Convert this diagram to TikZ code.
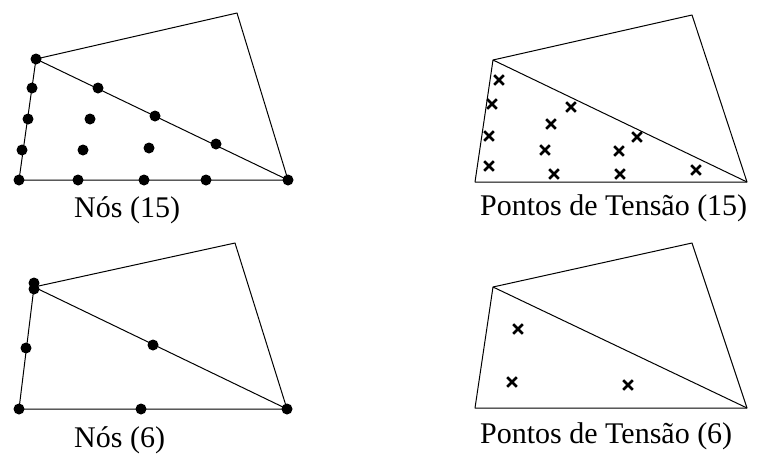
\documentclass[tikz,border=0pt]{standalone}
\usepackage{fontspec}
\setmainfont{Liberation Serif}
\usetikzlibrary{shapes.misc}
\begin{document}
\begin{tikzpicture}[x=1pt,y=-1pt,
  edge/.style={line width=1pt,line join=round},
  dot/.style={circle,fill=black,inner sep=0pt,minimum size=11pt},
  xmark/.style={cross out,draw=black,line width=2.6pt,inner sep=0pt,minimum size=7pt},
  lbl/.style={anchor=base west,inner sep=0pt,font=\fontsize{30}{36}\selectfont}]
\useasboundingbox (0,0) rectangle (757,455);
% ---------- top-left: Nos (15)
\coordinate (a1) at (36,59);
\coordinate (b1) at (237,13);
\coordinate (c1) at (288,180);
\coordinate (d1) at (19,180);
\draw[edge] (a1) -- (b1) -- (c1) -- (d1) -- cycle;
\draw[edge] (a1) -- (c1);
\foreach \n/\p in {p1/{(36,59)},p2/{(288,180)},p3/{(19,180)},
  p4/{(32,88)},p5/{(28,119)},p6/{(22,150)},
  p7/{(98,88)},p8/{(155,116)},p9/{(216,144)},
  p10/{(78,180)},p11/{(144,180)},p12/{(206,180)},
  p13/{(90,119)},p14/{(83,150)},p15/{(149,148)}}
  \node[dot] (\n) at \p {};
\node[lbl] (t1) at (74,217) {Nós (15)};
% ---------- top-right: Pontos de Tensao (15)
\coordinate (a2) at (493,60);
\coordinate (b2) at (692,15);
\coordinate (c2) at (747,182);
\coordinate (d2) at (475,182);
\draw[edge] (a2) -- (b2) -- (c2) -- (d2) -- cycle;
\draw[edge] (a2) -- (c2);
\foreach \n/\p in {q1/{(499,80)},q2/{(492,104)},q3/{(571,107)},q4/{(551,124)},
  q5/{(489,136)},q6/{(637,137)},q7/{(545,150)},q8/{(619,151)},
  q9/{(489,166)},q10/{(554,174)},q11/{(620,174)},q12/{(696,170)}}
  \node[xmark] (\n) at \p {};
\node[lbl] (t2) at (480,215) {Pontos de Tensão (15)};
% ---------- bottom-left: Nos (6)
\coordinate (a3) at (34,287);
\coordinate (b3) at (235,243);
\coordinate (c3) at (287,409);
\coordinate (d3) at (19,409);
\draw[edge] (a3) -- (b3) -- (c3) -- (d3) -- cycle;
\draw[edge] (a3) -- (c3);
\foreach \n/\p in {r1/{(34,283)},r2/{(34,289)},r3/{(287,409)},r4/{(19,409)},
  r5/{(26,348)},r6/{(153,345)},r7/{(141,409)}}
  \node[dot] (\n) at \p {};
\node[lbl] (t3) at (74,447) {Nós (6)};
% ---------- bottom-right: Pontos de Tensao (6)
\coordinate (a4) at (493,287);
\coordinate (b4) at (692,243);
\coordinate (c4) at (747,408);
\coordinate (d4) at (475,408);
\draw[edge] (a4) -- (b4) -- (c4) -- (d4) -- cycle;
\draw[edge] (a4) -- (c4);
\foreach \n/\p in {s1/{(518,329)},s2/{(512,382)},s3/{(628,385)}}
  \node[xmark] (\n) at \p {};
\node[lbl] (t4) at (480,443) {Pontos de Tensão (6)};
\end{tikzpicture}
\end{document}
